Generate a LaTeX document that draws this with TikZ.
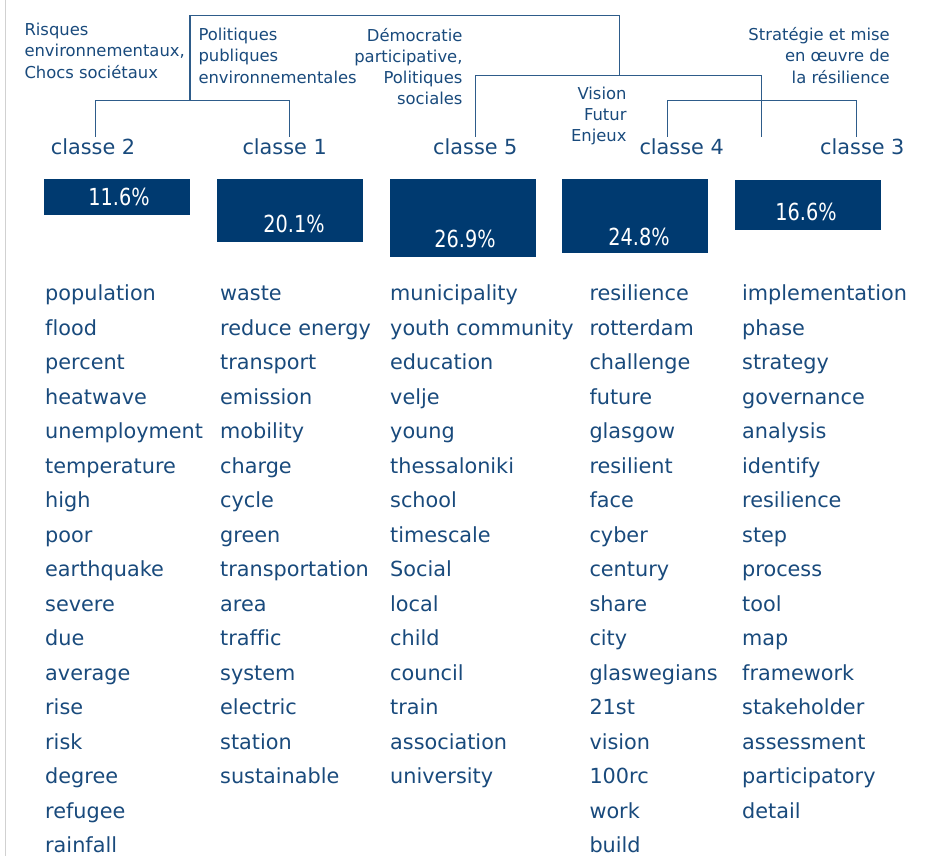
\documentclass[tikz,border=0pt]{standalone}
\usepackage{fontspec}
\setmainfont[Ligatures=NoCommon]{DejaVu Sans}
\newfontfamily\pctfont[FakeStretch=0.82]{DejaVu Sans}
\definecolor{barblue}{HTML}{003A70}
\definecolor{txtblue}{HTML}{194A7C}
\definecolor{lineblue}{HTML}{2E5C8A}
\begin{document}
\begin{tikzpicture}[x=1pt,y=-1pt,
  word/.style={anchor=base west,inner sep=0pt,text=txtblue,font=\fontsize{20.8}{25}\selectfont},
  classlbl/.style={anchor=base west,inner sep=0pt,text=txtblue,font=\fontsize{20.8}{25}\selectfont},
  themel/.style={anchor=base west,inner sep=0pt,text=txtblue,align=left,font=\fontsize{16.4}{21.3}\selectfont},
  themer/.style={anchor=base east,inner sep=0pt,text=txtblue,align=right,font=\fontsize{16.4}{21.3}\selectfont},
  bar/.style={fill=barblue,draw=none},
  pct/.style={anchor=base,inner sep=0pt,text=white,font=\pctfont\fontsize{23.5}{26}\selectfont},
  dendro/.style={draw=lineblue,line width=1.3pt}]
\useasboundingbox (0,0) rectangle (930,856);
% left page rule
\coordinate (rt) at (5.5,0); \coordinate (rb) at (5.5,856);
\draw[black!18,line width=1pt] (rt) -- (rb);
% dendrogram junctions
\coordinate (top1) at (190,15.7); \coordinate (top2) at (619.3,15.7);
\coordinate (j21) at (190,100.7); \coordinate (j21l) at (95.7,100.7); \coordinate (j21r) at (289.3,100.7);
\coordinate (l2) at (95.7,136.7); \coordinate (l1) at (289.3,136.7);
\coordinate (j543) at (619.3,75.7); \coordinate (j543l) at (475.7,75.7); \coordinate (j543r) at (761.7,75.7);
\coordinate (l5) at (475.7,136.7); \coordinate (l43) at (761.7,136.7);
\coordinate (j43l) at (667.7,100.7); \coordinate (j43r) at (856.7,100.7);
\coordinate (l4) at (667.7,136.7); \coordinate (l3) at (856.7,136.7);
\draw[dendro] (j21) -- (top1) -- (top2) -- (j543);
\draw[dendro] (l2) -- (j21l) -- (j21r) -- (l1);
\draw[dendro] (l5) -- (j543l) -- (j543r) -- (l43);
\draw[dendro] (l4) -- (j43l) -- (j43r) -- (l3);
% theme labels (anchored at the baseline of their last line)
\node[themel] (t2) at (24.3,78.3) {Risques\\environnementaux,\\Chocs sociétaux};
\node[themel] (t1) at (198.3,83.3) {Politiques\\publiques\\environnementales};
\node[themer] (t5) at (462.7,105) {Démocratie\\participative,\\Politiques\\sociales};
\node[themer] (t4) at (626.7,141.7) {Vision\\Futur\\Enjeux};
\node[themer] (t3) at (890,83.3) {Stratégie et mise\\en œuvre de\\la résilience};
% class labels
\node[classlbl] (c2) at (50.7,155) {classe 2};
\node[classlbl] (c1) at (242.3,155) {classe 1};
\node[classlbl] (c5) at (433,155) {classe 5};
\node[classlbl] (c4) at (639.3,155) {classe 4};
\node[classlbl] (c3) at (820,155) {classe 3};
% bars
\path[bar] (44,179) rectangle (190,215);
\path[bar] (217,179) rectangle (363,242);
\path[bar] (390,179) rectangle (536,257);
\path[bar] (562,179) rectangle (708,253);
\path[bar] (735,180) rectangle (881,230);
\node[pct] (p2) at (119,206) {11.6\%};
\node[pct] (p1) at (294,232.5) {20.1\%};
\node[pct] (p5) at (465,247.5) {26.9\%};
\node[pct] (p4) at (639,245.5) {24.8\%};
\node[pct] (p3) at (806,221) {16.6\%};
% word lists
\foreach \w [count=\i from 0] in {population,flood,percent,heatwave,unemployment,temperature,high,poor,earthquake,severe,due,average,rise,risk,degree,refugee,rainfall}
  \node[word] (a\i) at (45,300.7+34.5*\i) {\w};
\foreach \w [count=\i from 0] in {waste,reduce energy,transport,emission,mobility,charge,cycle,green,transportation,area,traffic,system,electric,station,sustainable}
  \node[word] (b\i) at (220,300.7+34.5*\i) {\w};
\foreach \w [count=\i from 0] in {municipality,youth community,education,velje,young,thessaloniki,school,timescale,Social,local,child,council,train,association,university}
  \node[word] (c\i) at (390,300.7+34.5*\i) {\w};
\foreach \w [count=\i from 0] in {resilience,rotterdam,challenge,future,glasgow,resilient,face,cyber,century,share,city,glaswegians,21st,vision,100rc,work,build}
  \node[word] (d\i) at (589.3,300.7+34.5*\i) {\w};
\foreach \w [count=\i from 0] in {implementation,phase,strategy,governance,analysis,identify,resilience,step,process,tool,map,framework,stakeholder,assessment,participatory,detail}
  \node[word] (e\i) at (742,300.7+34.5*\i) {\w};
\end{tikzpicture}
\end{document}
